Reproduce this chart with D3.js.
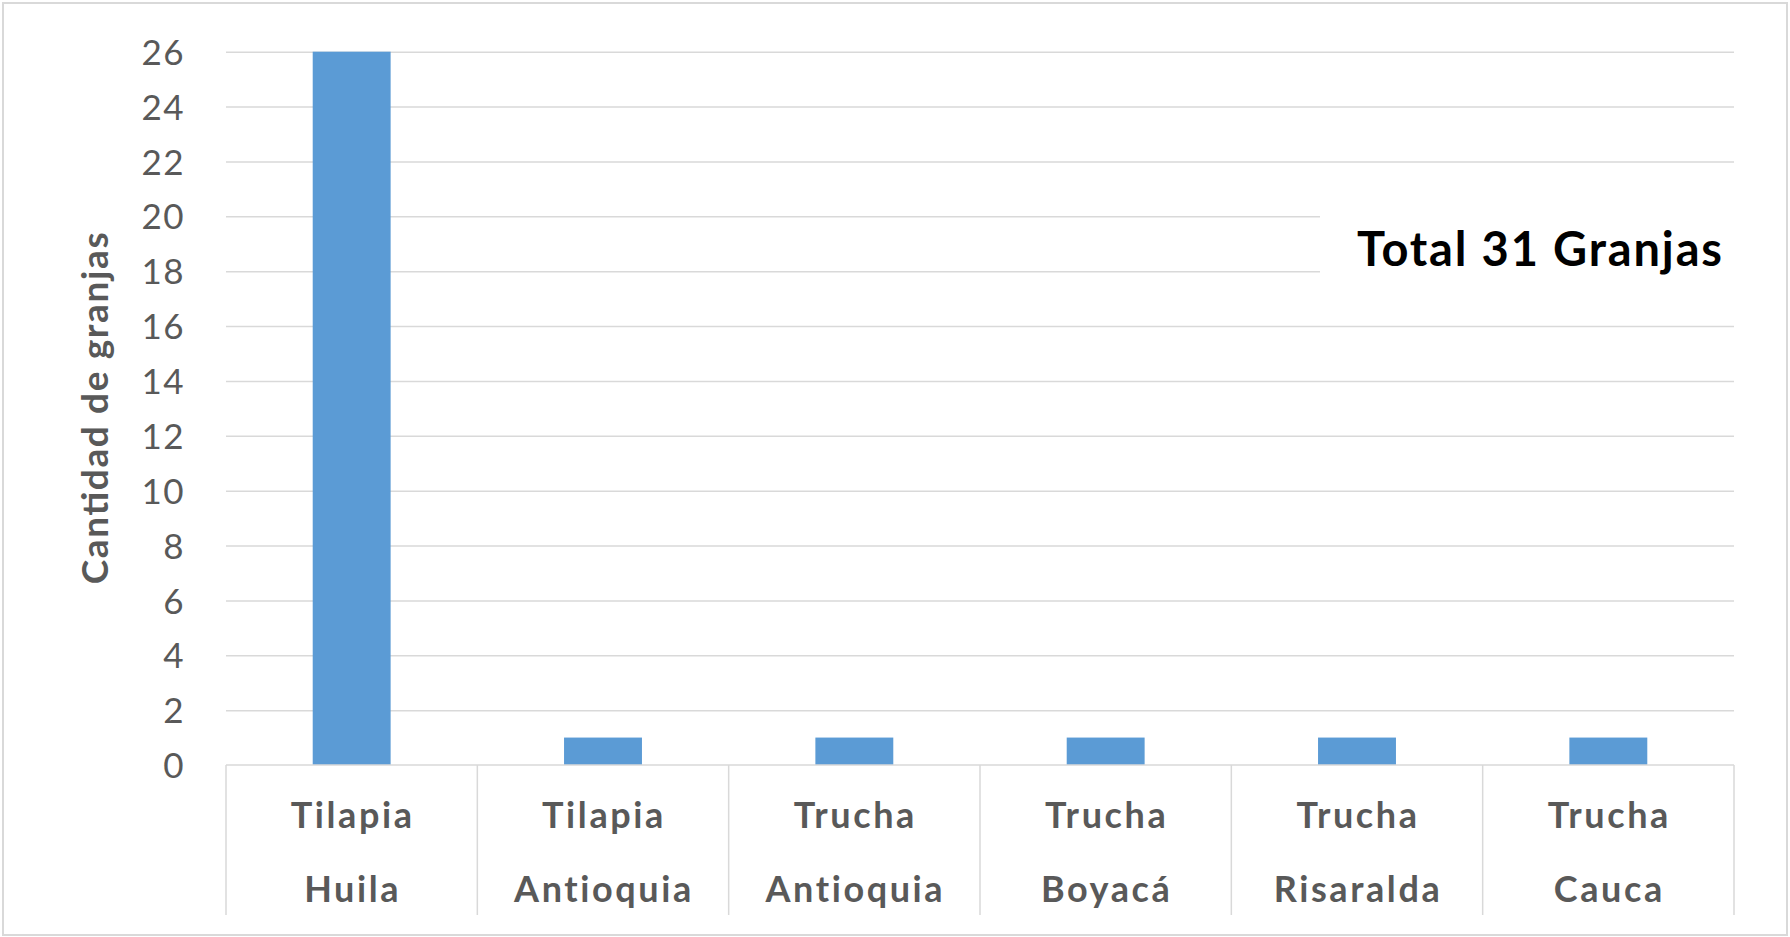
<!DOCTYPE html>
<html>
<head>
<meta charset="utf-8">
<script src="https://cdn.jsdelivr.net/npm/d3@7"></script>
<style>
  html, body { margin: 0; padding: 0; background: #fff; }
  svg { display: block; }
</style>
</head>
<body>
<svg id="chart" width="1790" height="937"></svg>
<script>
const speciesLabels = ["Tilapia", "Tilapia", "Trucha", "Trucha", "Trucha", "Trucha"];
const regionLabels = ["Huila", "Antioquia", "Antioquia", "Boyacá", "Risaralda", "Cauca"];
const farmCounts = [26, 1, 1, 1, 1, 1];
const yTicks = [0, 2, 4, 6, 8, 10, 12, 14, 16, 18, 20, 22, 24, 26];
const yTitle = "Cantidad de granjas";
const annotation = "Total 31 Granjas";

const svg = d3.select("#chart");
const W = 1790, H = 937;
const margin = { left: 226, right: 56, top: 51.7, bottom: 172 };
const plotL = margin.left, plotR = W - margin.right;
const plotT = margin.top, plotB = H - margin.bottom; // 765

// outer border
svg.append("rect").attr("x", 3).attr("y", 3).attr("width", W - 6).attr("height", H - 5)
  .attr("fill", "#fff").attr("stroke", "#d9d9d9").attr("stroke-width", 2);

const cats = d3.range(farmCounts.length);
const x = d3.scaleBand().domain(cats).range([plotL, plotR]).padding(0);
const y = d3.scaleLinear().domain([0, 26]).range([plotB, plotT]);

// gridlines via axis
const grid = svg.append("g").attr("transform", `translate(${plotL},0)`)
  .call(d3.axisRight(y).tickValues(yTicks.filter(d => d > 0)).tickSize(plotR - plotL).tickFormat(""));
grid.select(".domain").remove();
grid.selectAll("line").attr("stroke", "#d9d9d9").attr("stroke-width", 1.5);

// y tick labels
const yAxis = svg.append("g").attr("transform", `translate(${plotL},0)`)
  .call(d3.axisLeft(y).tickValues(yTicks).tickSize(0).tickPadding(41).tickFormat(d3.format("d")));
yAxis.select(".domain").remove();
yAxis.selectAll("text").attr("font-family", "Lato, 'Open Sans', sans-serif")
  .attr("font-size", 35).attr("fill", "#595959").attr("dy", "0.36em").attr("letter-spacing", 1.5);

// white box behind annotation
svg.append("rect").attr("x", 1320).attr("y", 195).attr("width", 420).attr("height", 105).attr("fill", "#fff");

// bars
const barW = x.bandwidth() * 0.31;
svg.append("g").selectAll("rect").data(cats).join("rect")
  .attr("x", i => x(i) + (x.bandwidth() - barW) / 2)
  .attr("y", i => y(farmCounts[i]))
  .attr("width", barW)
  .attr("height", i => y(0) - y(farmCounts[i]))
  .attr("fill", "#5b9bd5");

// category axis box
const catG = svg.append("g");
catG.append("line").attr("x1", plotL).attr("x2", plotR).attr("y1", plotB).attr("y2", plotB)
  .attr("stroke", "#d9d9d9").attr("stroke-width", 1.5);
const bounds = cats.map(i => x(i)).concat([plotR]);
catG.selectAll("line.sep").data(bounds).join("line").attr("class", "sep")
  .attr("x1", d => d).attr("x2", d => d).attr("y1", plotB).attr("y2", 915)
  .attr("stroke", "#d9d9d9").attr("stroke-width", 1.5);

const labG = svg.append("g").attr("font-family", "Lato, 'Open Sans', sans-serif")
  .attr("font-weight", "bold").attr("font-size", 36).attr("fill", "#595959")
  .attr("text-anchor", "middle").attr("letter-spacing", 2.6);
labG.selectAll("text.l1").data(cats).join("text").attr("class", "l1")
  .attr("x", i => x(i) + x.bandwidth() / 2 + 1).attr("y", 828).text(i => speciesLabels[i]);
labG.selectAll("text.l2").data(cats).join("text").attr("class", "l2")
  .attr("x", i => x(i) + x.bandwidth() / 2 + 1).attr("y", 902).text(i => regionLabels[i]);

// y title
svg.append("text").attr("transform", `translate(108,${(plotT + plotB) / 2}) rotate(-90)`)
  .attr("text-anchor", "middle").attr("font-family", "Lato, 'Open Sans', sans-serif")
  .attr("font-weight", "bold").attr("font-size", 37).attr("fill", "#595959")
  .attr("textLength", 352).attr("lengthAdjust", "spacing").text(yTitle);

// annotation
svg.append("text").attr("x", 1357).attr("y", 266)
  .attr("font-family", "Lato, 'Open Sans', sans-serif").attr("font-weight", "bold")
  .attr("font-size", 47).attr("fill", "#000")
  .attr("textLength", 365).attr("lengthAdjust", "spacing").text(annotation);
</script>
</body>
</html>
